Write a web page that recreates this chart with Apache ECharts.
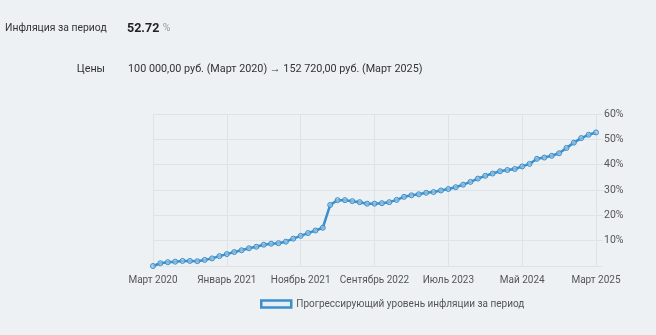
<!DOCTYPE html>
<html><head><meta charset="utf-8">
<script src="https://cdn.jsdelivr.net/npm/echarts@6/dist/echarts.min.js"></script>
<style>html,body{margin:0;padding:0;background:#edf1f3;}#c{width:656px;height:335px;}</style>
</head><body><div id="c"></div>
<script>
const categories = [
 'Март 2020','Апрель 2020','Май 2020','Июнь 2020','Июль 2020','Август 2020','Сентябрь 2020','Октябрь 2020','Ноябрь 2020','Декабрь 2020',
 'Январь 2021','Февраль 2021','Март 2021','Апрель 2021','Май 2021','Июнь 2021','Июль 2021','Август 2021','Сентябрь 2021','Октябрь 2021',
 'Ноябрь 2021','Декабрь 2021','Январь 2022','Февраль 2022','Март 2022','Апрель 2022','Май 2022','Июнь 2022','Июль 2022','Август 2022',
 'Сентябрь 2022','Октябрь 2022','Ноябрь 2022','Декабрь 2022','Январь 2023','Февраль 2023','Март 2023','Апрель 2023','Май 2023','Июнь 2023',
 'Июль 2023','Август 2023','Сентябрь 2023','Октябрь 2023','Ноябрь 2023','Декабрь 2023','Январь 2024','Февраль 2024','Март 2024','Апрель 2024',
 'Май 2024','Июнь 2024','Июль 2024','Август 2024','Сентябрь 2024','Октябрь 2024','Ноябрь 2024','Декабрь 2024','Январь 2025','Февраль 2025',
 'Март 2025'
];
const inflation = [
 0, 1.1, 1.5, 1.7, 2.0, 2.0, 1.9, 2.4, 3.0, 3.9,
 4.7, 5.5, 6.2, 7.0, 7.6, 8.4, 8.8, 9.0, 9.6, 10.8,
 11.9, 13.0, 14.0, 15.1, 24.1, 26.0, 26.0, 25.6, 25.2, 24.6,
 24.6, 24.8, 25.2, 26.1, 27.3, 27.9, 28.3, 28.9, 29.2, 29.8,
 30.4, 31.1, 32.1, 33.2, 34.5, 35.6, 36.5, 37.4, 37.9, 38.3,
 39.3, 40.3, 42.3, 42.8, 43.5, 44.5, 46.6, 48.7, 50.5, 51.8,
 52.72
];
const yTicks = [0, 10, 20, 30, 40, 50, 60];
const seriesName = 'Прогрессирующий уровень инфляции за период';
const headerLabel = 'Инфляция за период';
const headerValue = '52.72';
const pricesLabel = 'Цены';
const pricesText = '100 000,00 руб. (Март 2020) → 152 720,00 руб. (Март 2025)';

const font = 'Roboto, "Noto Sans", sans-serif';
const chart = echarts.init(document.getElementById('c'), null, {renderer: 'canvas'});
chart.setOption({
  backgroundColor: '#edf1f3',
  animation: false,
  textStyle: {fontFamily: font},
  graphic: [
    {type: 'text', left: 5, top: 23, style: {text: headerLabel, fill: '#333', font: '10.4px ' + font}},
    {type: 'text', left: 127, top: 22, style: {rich: {v: {fontSize: 12.5, fontWeight: 'bold', fill: '#222', fontFamily: font}, p: {fontSize: 10.5, fill: '#999', fontFamily: font}}, text: '{v|' + headerValue + '} {p|%}'}},
    {type: 'text', right: 551, top: 64, style: {text: pricesLabel, fill: '#333', font: '10.8px ' + font, align: 'right'}},
    {type: 'text', left: 128, top: 64, style: {text: pricesText, fill: '#333', font: '10.8px ' + font}}
  ],
  legend: {
    bottom: 21, left: 255,
    itemWidth: 30, itemHeight: 7, itemGap: 5,
    icon: 'rect',
    textStyle: {fontSize: 10, color: '#555', fontFamily: font},
    data: [{name: seriesName, itemStyle: {color: '#e3eef6', borderColor: '#3b8fcb', borderWidth: 2.5}}]
  },
  grid: {left: 153, right: 60, top: 114, bottom: 69},
  xAxis: {
    type: 'category', data: categories, boundaryGap: false,
    axisLine: {show: false}, axisTick: {show: false},
    axisLabel: {interval: 9, color: '#555', fontSize: 10, margin: 9, fontFamily: font},
    splitLine: {show: true, interval: 9, lineStyle: {color: '#dde3e7', width: 1}}
  },
  yAxis: {
    type: 'value', position: 'right', min: yTicks[0], max: yTicks[yTicks.length - 1], interval: 10,
    axisLine: {show: false},
    axisTick: {show: true, length: 7, lineStyle: {color: '#dde3e7'}},
    axisLabel: {color: '#555', fontSize: 10.5, margin: 8, fontFamily: font,
      formatter: v => v === 0 ? '' : v + '%'},
    splitLine: {show: true, lineStyle: {color: '#dde3e7', width: 1}}
  },
  series: [{
    name: seriesName, type: 'line', data: inflation,
    symbol: 'circle', symbolSize: 5, showAllSymbol: true,
    lineStyle: {color: '#3b8fcb', width: 2.5},
    itemStyle: {color: 'rgba(160,200,230,0.7)', borderColor: '#3b8fcb', borderWidth: 1}
  }]
});
</script></body></html>
